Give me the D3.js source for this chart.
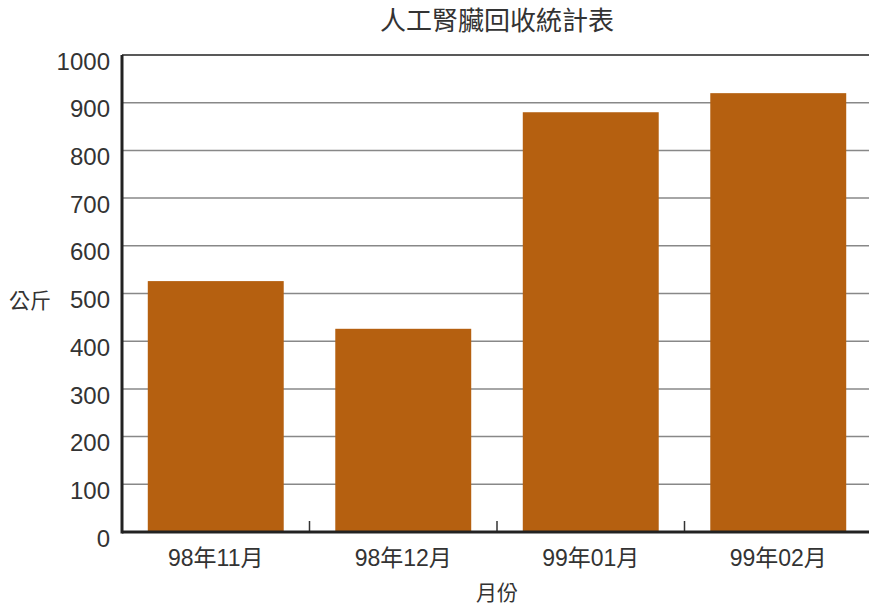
<!DOCTYPE html>
<html>
<head>
<meta charset="utf-8">
<script src="https://cdn.jsdelivr.net/npm/d3@7"></script>
<style>
  body { margin: 0; background: #fff; }
  text { font-family: "Liberation Sans", "Noto Sans CJK TC", sans-serif; fill: #333; }
</style>
</head>
<body>
<svg id="chart"></svg>
<script>
// data
const months = ["98年11月", "98年12月", "99年01月", "99年02月"];
const kilos = [526, 426, 880, 920];
const yTicks = [0, 100, 200, 300, 400, 500, 600, 700, 800, 900, 1000];

const W = 869, H = 605;
const margin = { top: 55, right: -3, bottom: 73, left: 122 };
const width = W - margin.left - margin.right;
const height = H - margin.top - margin.bottom;

const svg = d3.select("#chart").attr("width", W).attr("height", H);
const g = svg.append("g").attr("transform", `translate(${margin.left},${margin.top})`);

const x = d3.scaleBand().domain(months).range([0, width]).paddingInner(0.275).paddingOuter(0.1375);
const xTicks = d3.scaleBand().domain(months).range([0, width]);
const y = d3.scaleLinear().domain([0, 1000]).range([height, 0]);

// gridlines
g.selectAll(".grid")
  .data(yTicks.filter((d) => d > 0))
  .enter()
  .append("line")
  .attr("x1", 0)
  .attr("x2", width)
  .attr("y1", (d) => y(d))
  .attr("y2", (d) => y(d))
  .attr("stroke", (d) => (d === 1000 ? "#222" : "#888"))
  .attr("stroke-width", 1.5);

// bars
g.selectAll(".bar")
  .data(months)
  .enter()
  .append("rect")
  .attr("x", (d) => x(d))
  .attr("width", x.bandwidth())
  .attr("y", (d, i) => y(kilos[i]))
  .attr("height", (d, i) => height - y(kilos[i]))
  .attr("fill", "#b56010");

// category separator ticks
g.selectAll(".sep")
  .data(months.slice(1))
  .enter()
  .append("line")
  .attr("x1", (d) => xTicks(d))
  .attr("x2", (d) => xTicks(d))
  .attr("y1", height)
  .attr("y2", height - 11)
  .attr("stroke", "#333")
  .attr("stroke-width", 1.5);

// axes lines
g.append("line")
  .attr("x1", 0).attr("x2", width)
  .attr("y1", height).attr("y2", height)
  .attr("stroke", "#222").attr("stroke-width", 3);
g.append("line")
  .attr("x1", 0).attr("x2", 0)
  .attr("y1", 0).attr("y2", height + 1.5)
  .attr("stroke", "#222").attr("stroke-width", 3);

// y tick labels (sit a little below their gridline, as in the original)
g.selectAll(".ylab")
  .data(yTicks)
  .enter()
  .append("text")
  .attr("x", -12)
  .attr("y", (d) => y(d) + 6)
  .attr("dy", "0.36em")
  .attr("text-anchor", "end")
  .attr("font-size", 24)
  .text((d) => d);

// x labels
g.selectAll(".xlab")
  .data(months)
  .enter()
  .append("text")
  .attr("x", (d) => xTicks(d) + xTicks.bandwidth() / 2)
  .attr("y", height + 26)
  .attr("dy", "0.36em")
  .attr("text-anchor", "middle")
  .attr("font-size", 23)
  .text((d) => d);

// titles
svg.append("text")
  .attr("x", margin.left + width / 2)
  .attr("y", 21)
  .attr("dy", "0.36em")
  .attr("text-anchor", "middle")
  .attr("font-size", 26)
  .text("人工腎臟回收統計表");

svg.append("text")
  .attr("x", 497)
  .attr("y", 592)
  .attr("dy", "0.36em")
  .attr("text-anchor", "middle")
  .attr("font-size", 21)
  .text("月份");

svg.append("text")
  .attr("x", 30)
  .attr("y", 300)
  .attr("dy", "0.36em")
  .attr("text-anchor", "middle")
  .attr("font-size", 21)
  .text("公斤");
</script>
</body>
</html>
